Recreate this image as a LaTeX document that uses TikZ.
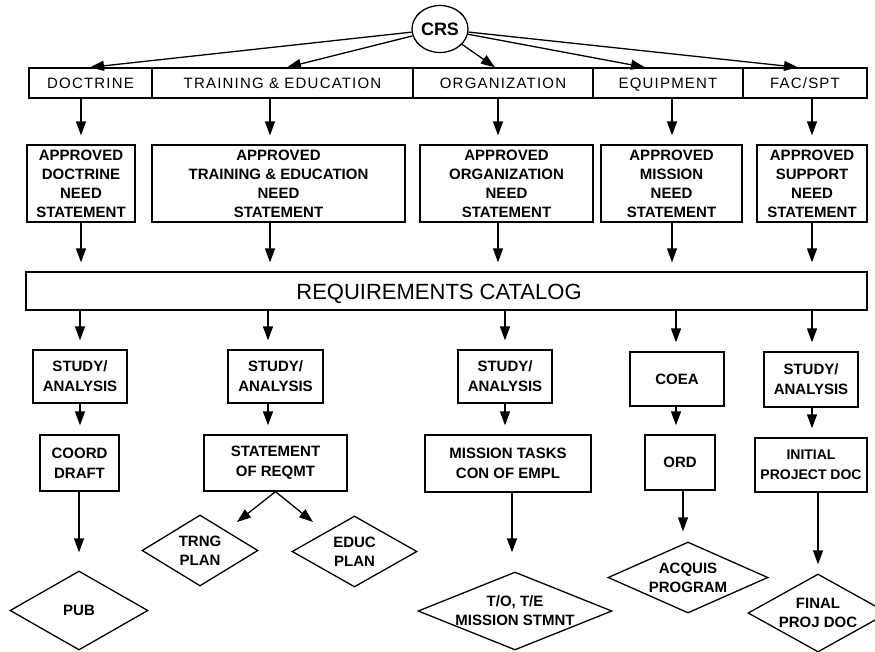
\documentclass[tikz,border=0pt]{standalone}
\usepackage{fontspec}
\setmainfont{Liberation Sans}
\newfontfamily\headfont[LetterSpace=8]{Liberation Sans}
\usetikzlibrary{shapes.geometric,arrows.meta}
\begin{document}
\begin{tikzpicture}[x=1pt,y=-1pt,
  line width=1.3pt,
  box/.style={draw, rectangle, inner sep=0pt, align=center},
  head/.style={box, font=\headfont\fontsize{15}{17}\selectfont, minimum height=30pt,
    text height=11pt, text depth=0pt},
  need/.style={box, font=\bfseries\fontsize{15}{19}\selectfont, minimum height=77pt},
  work/.style={box, font=\bfseries\fontsize{15}{20}\selectfont},
  product/.style={draw, diamond, inner sep=0pt,
    label={[align=center, font=\bfseries\fontsize{15}{19}\selectfont]center:#1}},
  flow/.style={-{Triangle[length=14pt,width=10pt]}},
  down/.style={flow, shorten >=9pt},
]
\useasboundingbox (0,0) rectangle (875,651);

% source
\node[draw, ellipse, minimum width=56pt, minimum height=47pt, inner sep=0pt,
      font=\bfseries\fontsize{18}{20}\selectfont] (crs) at (440,29) {CRS};

% categories
\node[head, minimum width=123pt] (doc) at (90.5,83) {DOCTRINE};
\node[head, minimum width=261pt] (tre) at (282.5,83) {TRAINING \& EDUCATION};
\node[head, minimum width=180pt] (org) at (503,83) {ORGANIZATION};
\node[head, minimum width=150pt] (equ) at (668,83) {EQUIPMENT};
\node[head, minimum width=124pt] (fac) at (805,83) {FAC/SPT};

% need statements
\node[need, minimum width=108pt] (adoc) at (81,183.5) {APPROVED\\DOCTRINE\\NEED\\STATEMENT};
\node[need, minimum width=253pt] (atre) at (278.5,183.5) {APPROVED\\TRAINING \& EDUCATION\\NEED\\STATEMENT};
\node[need, minimum width=173pt] (aorg) at (506.5,183.5) {APPROVED\\ORGANIZATION\\NEED\\STATEMENT};
\node[need, minimum width=141pt] (amis) at (671.5,183.5) {APPROVED\\MISSION\\NEED\\STATEMENT};
\node[need, minimum width=110pt] (asup) at (812,183.5) {APPROVED\\SUPPORT\\NEED\\STATEMENT};

% catalog
\node[box, minimum width=841pt, minimum height=38pt] (cat) at (446.5,291) {};
\node[font=\fontsize{22}{24}\selectfont, inner sep=0pt, text height=16pt, text depth=0pt]
  (cattext) at (439,291) {REQUIREMENTS CATALOG};

% analysis row
\node[work, minimum width=94pt, minimum height=53pt] (s1) at (80,376.5) {STUDY/\\ANALYSIS};
\node[work, minimum width=95pt, minimum height=53pt] (s2) at (275.5,376.5) {STUDY/\\ANALYSIS};
\node[work, minimum width=94pt, minimum height=53pt] (s3) at (505,376.5) {STUDY/\\ANALYSIS};
\node[work, minimum width=94pt, minimum height=54pt] (coea) at (677,379) {COEA};
\node[work, minimum width=94pt, minimum height=55pt] (s5) at (811,379.5) {STUDY/\\ANALYSIS};

% documents row
\node[work, minimum width=79pt, minimum height=56pt] (cd) at (79.5,463) {COORD\\DRAFT};
\node[work, minimum width=143pt, minimum height=56pt] (sor) at (275.5,463) {STATEMENT\\OF REQMT};
\node[work, minimum width=166pt, minimum height=57pt] (mt) at (508,463.5) {MISSION TASKS\\CON OF EMPL};
\node[work, minimum width=70pt, minimum height=55pt] (ord) at (680,462.5) {ORD};
\node[work, minimum width=112pt, minimum height=54pt, font=\bfseries\fontsize{14}{20}\selectfont]
  (ipd) at (811,465) {INITIAL\\PROJECT DOC};

% products
\node[product={PUB}, minimum width=138pt, minimum height=79pt] (pub) at (79,610.5) {};
\node[product={TRNG\\PLAN}, minimum width=116pt, minimum height=71pt] (trng) at (200,550.5) {};
\node[product={EDUC\\PLAN}, minimum width=125pt, minimum height=71pt] (educ) at (354.5,551.5) {};
\node[product={T/O, T/E\\MISSION STMNT}, minimum width=194pt, minimum height=78pt] (tomis) at (515,611) {};
\node[product={ACQUIS\\PROGRAM}, minimum width=160pt, minimum height=71pt] (acq) at (688,577.5) {};
\node[product={FINAL\\PROJ DOC}, minimum width=140pt, minimum height=78pt] (fin) at (818,613) {};

% column positions of the connectors
\coordinate (t1) at (90,0);  \coordinate (t2) at (287,0);  \coordinate (t3) at (495,0);
\coordinate (t4) at (645,0); \coordinate (t5) at (798,0);
\coordinate (a1) at (81,0);  \coordinate (a2) at (270,0);  \coordinate (a3) at (498,0);
\coordinate (a4) at (672,0); \coordinate (a5) at (812,0);
\coordinate (b1) at (80,0);  \coordinate (b2) at (268,0);  \coordinate (b3) at (505,0);
\coordinate (b4) at (676,0); \coordinate (b5) at (812,0);
\coordinate (d1) at (79,0);  \coordinate (d3) at (512,0);  \coordinate (d4) at (683,0);
\coordinate (d5) at (818,0);
\coordinate (sorL) at (237,522);
\coordinate (sorR) at (313,522);

% CRS fan-out
\draw[flow] (crs) -- (doc.north -| t1);
\draw[flow] (crs) -- (tre.north -| t2);
\draw[flow] (crs) -- (org.north -| t3);
\draw[flow] (crs) -- (equ.north -| t4);
\draw[flow] (crs) -- (fac.north -| t5);

% categories to need statements
\draw[down] (doc.south -| a1) -- (adoc.north -| a1);
\draw[down] (tre.south -| a2) -- (atre.north -| a2);
\draw[down] (org.south -| a3) -- (aorg.north -| a3);
\draw[down] (equ.south -| a4) -- (amis.north -| a4);
\draw[down] (fac.south -| a5) -- (asup.north -| a5);

% need statements to catalog
\draw[down] (adoc.south -| a1) -- (cat.north -| a1);
\draw[down] (atre.south -| a2) -- (cat.north -| a2);
\draw[down] (aorg.south -| a3) -- (cat.north -| a3);
\draw[down] (amis.south -| a4) -- (cat.north -| a4);
\draw[down] (asup.south -| a5) -- (cat.north -| a5);

% catalog to analysis
\draw[down] (cat.south -| b1) -- (s1.north -| b1);
\draw[down] (cat.south -| b2) -- (s2.north -| b2);
\draw[down] (cat.south -| b3) -- (s3.north -| b3);
\draw[down] (cat.south -| b4) -- (coea.north -| b4);
\draw[down] (cat.south -| b5) -- (s5.north -| b5);

% analysis to documents
\draw[down] (s1.south -| b1) -- (cd.north -| b1);
\draw[down] (s2.south -| b2) -- (sor.north -| b2);
\draw[down] (s3.south -| b3) -- (mt.north -| b3);
\draw[down] (coea.south -| b4) -- (ord.north -| b4);
\draw[down] (s5.south -| b5) -- (ipd.north -| b5);

% documents to products
\draw[flow, shorten >=18pt] (cd.south -| d1) -- (pub.north -| d1);
\draw[flow] (sor.south) -- (sorL);
\draw[flow] (sor.south) -- (sorR);
\draw[flow, shorten >=19pt] (mt.south -| d3) -- (tomis.north -| d3);
\draw[flow, shorten >=10pt] (ord.south -| d4) -- (acq.north -| d4);
\draw[flow, shorten >=9pt] (ipd.south -| d5) -- (fin.north -| d5);
\end{tikzpicture}
\end{document}
